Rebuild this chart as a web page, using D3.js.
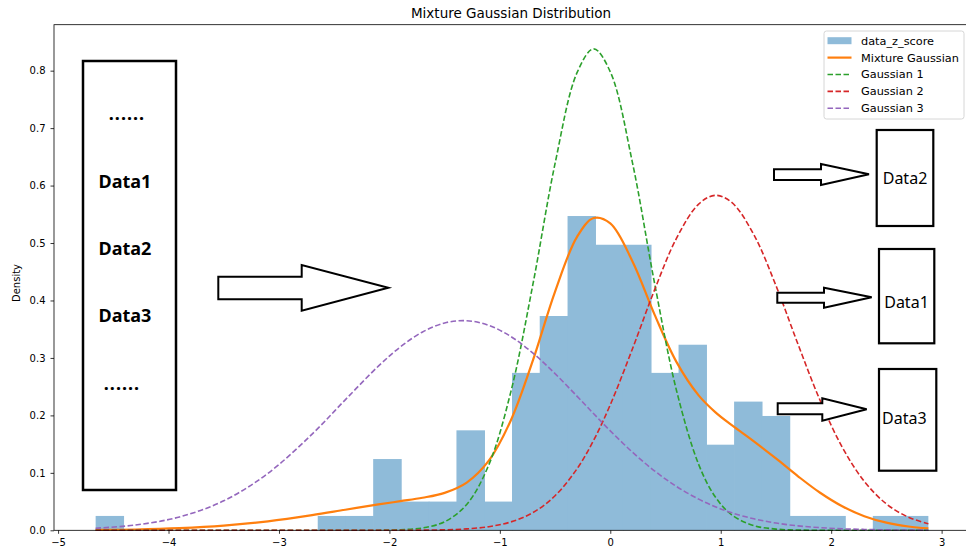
<!DOCTYPE html>
<html>
<head>
<meta charset="utf-8">
<script src="https://cdn.jsdelivr.net/npm/d3@7/dist/d3.min.js"></script>
<style>
  body { margin: 0; background: #fff; }
  svg { display: block; }
</style>
</head>
<body>
<div id="chart"></div>
<script>

// histogram (density=True, 30 bins)
var binEdges = [-4.66, -4.409, -4.157, -3.906, -3.655, -3.403, -3.152, -2.901, -2.649, -2.398,
  -2.147, -1.895, -1.644, -1.393, -1.141, -0.890, -0.639, -0.387, -0.136, 0.115,
  0.367, 0.618, 0.869, 1.121, 1.372, 1.623, 1.875, 2.126, 2.377, 2.629, 2.88];
var histDensity = [0.025, 0, 0, 0, 0, 0, 0, 0, 0.025, 0.025,
  0.124, 0.050, 0.050, 0.174, 0.050, 0.274, 0.373, 0.547, 0.497, 0.497,
  0.274, 0.323, 0.149, 0.224, 0.199, 0.025, 0.025, 0, 0.025, 0.025];

// curves, read at these x positions
var curveX = [-4.66, -4.3, -3.9, -3.5, -3.1, -2.7, -2.4, -2.1, -1.9, -1.7, -1.5, -1.3, -1.1, -0.9, -0.7, -0.5, -0.3,
  -0.15, 0.0, 0.2, 0.4, 0.6, 0.8, 0.95, 1.1, 1.3, 1.5, 1.7, 1.9, 2.1, 2.3, 2.5, 2.7, 2.88];
var mixture = [0.0006, 0.0014, 0.0037, 0.0081, 0.0156, 0.0263, 0.0357, 0.0450, 0.0507, 0.0566, 0.0652, 0.0831,
  0.1212, 0.1916, 0.2961, 0.4156, 0.5112, 0.5435, 0.5342, 0.4684, 0.3758, 0.2927, 0.2348, 0.2057, 0.1829,
  0.1548, 0.1250, 0.0940, 0.0653, 0.0418, 0.0246, 0.0133, 0.0066, 0.0033];
var gauss1 = [0, 0, 0, 0, 0, 0, 0, 0.0002, 0.0010, 0.0041, 0.0149, 0.0450, 0.1139, 0.2414, 0.4288, 0.6385,
  0.7969, 0.8380, 0.7980, 0.6405, 0.4309, 0.2430, 0.1148, 0.0583, 0.0268, 0.0082, 0.0021, 0.0004, 0.0001,
  0, 0, 0, 0, 0];
var gauss2 = [0, 0, 0, 0, 0, 0, 0, 0, 0.0001, 0.0003, 0.0009, 0.0025, 0.0063, 0.0146, 0.0309, 0.0601,
  0.1074, 0.1570, 0.2186, 0.3155, 0.4180, 0.5084, 0.5677, 0.5830, 0.5706, 0.5145, 0.4259, 0.3237, 0.2259,
  0.1447, 0.0851, 0.0459, 0.0228, 0.0113];
var gauss3 = [0.0036, 0.0092, 0.0233, 0.0513, 0.0991, 0.1674, 0.2271, 0.2857, 0.3193, 0.3452, 0.3609,
  0.3648, 0.3567, 0.3372, 0.3083, 0.2726, 0.2331, 0.2028, 0.1731, 0.1361, 0.1035, 0.0762, 0.0542, 0.0410,
  0.0305, 0.0200, 0.0126, 0.0077, 0.0046, 0.0026, 0.0015, 0.0008, 0.0004, 0.0002];

var xTicks = [-5, -4, -3, -2, -1, 0, 1, 2, 3];
var yTicks = [0, 0.1, 0.2, 0.3, 0.4, 0.5, 0.6, 0.7, 0.8];
var legendLabels = ["data_z_score", "Mixture Gaussian", "Gaussian 1", "Gaussian 2", "Gaussian 3"];

var leftBoxLabels = ["......", "Data1", "Data2", "Data3", "......"];
var rightBoxLabels = ["Data2", "Data1", "Data3"];

var width = 966, height = 553;
var plot = {left: 54, right: 970, top: 24.7, bottom: 530.3};
var mplFont = "DejaVu Sans, sans-serif";

var svg = d3.select("#chart").append("svg")
  .attr("width", width)
  .attr("height", height);

var xScale = d3.scaleLinear()
  .domain([-5.037, 3.257])
  .range([plot.left, plot.right]);

var yScale = d3.scaleLinear()
  .domain([0, 0.88])
  .range([plot.bottom, plot.top]);

// bars (a hair wider so neighbours don't show a seam)
svg.append("g").selectAll("rect")
    .data(histDensity)
  .enter().append("rect")
    .attr("x", function(d, i) { return xScale(binEdges[i]); })
    .attr("width", function(d, i) { return xScale(binEdges[i + 1]) - xScale(binEdges[i]) + (i < histDensity.length - 1 ? 0.7 : 0); })
    .attr("y", function(d) { return yScale(d); })
    .attr("height", function(d) { return yScale(0) - yScale(d); })
    .style("fill", "#8fbbd9");

var line = d3.line()
  .x(function(d, i) { return xScale(curveX[i]); })
  .y(function(d) { return yScale(d); })
  .curve(d3.curveCatmullRom.alpha(0.5));

var series = [
  {values: mixture, color: "#ff7f0e", width: 2.2, dash: null},
  {values: gauss1, color: "#2ca02c", width: 1.6, dash: "5.5,2.5"},
  {values: gauss2, color: "#d62728", width: 1.6, dash: "5.5,2.5"},
  {values: gauss3, color: "#9467bd", width: 1.6, dash: "5.5,2.5"}
];

svg.append("g").selectAll("path")
    .data(series)
  .enter().append("path")
    .attr("d", function(d) { return line(d.values); })
    .style("fill", "none")
    .style("stroke", function(d) { return d.color; })
    .style("stroke-width", function(d) { return d.width; })
    .style("stroke-dasharray", function(d) { return d.dash; });

// frame + axes
svg.append("rect")
  .attr("x", plot.left)
  .attr("y", plot.top)
  .attr("width", plot.right - plot.left)
  .attr("height", plot.bottom - plot.top)
  .style("fill", "none")
  .style("stroke", "#000")
  .style("stroke-width", 0.8);

var xAxis = d3.axisBottom(xScale)
  .tickValues(xTicks)
  .tickFormat(d3.format("d"))
  .tickSize(3.5)
  .tickPadding(5);

var yAxis = d3.axisLeft(yScale)
  .tickValues(yTicks)
  .tickFormat(d3.format(".1f"))
  .tickSize(3.5)
  .tickPadding(5);

var gx = svg.append("g")
  .attr("transform", "translate(0," + plot.bottom + ")")
  .call(xAxis);
var gy = svg.append("g")
  .attr("transform", "translate(" + plot.left + ",0)")
  .call(yAxis);

[gx, gy].forEach(function(g) {
  g.select(".domain").remove();
  g.selectAll("line").style("stroke", "#000").style("stroke-width", 0.8);
  g.selectAll("text").style("font-family", mplFont).style("font-size", "10px").style("fill", "#000");
});

svg.append("text")
  .attr("x", (plot.left + plot.right) / 2 - 1)
  .attr("y", 18)
  .attr("text-anchor", "middle")
  .style("font-family", mplFont)
  .style("font-size", "13.5px")
  .text("Mixture Gaussian Distribution");

svg.append("text")
  .attr("transform", "translate(20,283) rotate(-90)")
  .attr("text-anchor", "middle")
  .style("font-family", mplFont)
  .style("font-size", "10px")
  .text("Density");

// legend
var legend = svg.append("g").attr("transform", "translate(824,31)");
legend.append("rect")
  .attr("width", 140)
  .attr("height", 88)
  .attr("rx", 2.5)
  .style("fill", "#fff")
  .style("fill-opacity", 0.8)
  .style("stroke", "#ccc")
  .style("stroke-width", 0.8);

var rows = legend.selectAll(".row")
    .data(legendLabels)
  .enter().append("g")
    .attr("class", "row")
    .attr("transform", function(d, i) { return "translate(0," + (9.7 + i * 16.9) + ")"; });

rows.each(function(d, i) {
  var row = d3.select(this);
  if (i === 0) {
    row.append("rect").attr("x", 3.5).attr("y", -3.5).attr("width", 24).attr("height", 7)
      .style("fill", "#8fbbd9");
  } else {
    var s = series[i - 1];
    row.append("line").attr("x1", 3.5).attr("x2", 27.5).attr("y1", 0).attr("y2", 0)
      .style("stroke", s.color)
      .style("stroke-width", s.width)
      .style("stroke-dasharray", s.dash);
  }
  row.append("text")
    .attr("x", 37)
    .attr("y", 0)
    .attr("dy", "0.35em")
    .style("font-family", mplFont)
    .style("font-size", "11.3px")
    .text(d);
});

// hand-drawn overlay: boxes and arrows (pixel positions)
var overlay = svg.append("g");

var boxes = [
  {x0: 83, y0: 61, x1: 176, y1: 490, w: 2.5},
  {x0: 876.7, y0: 130, x1: 933.3, y1: 226, w: 2.2},
  {x0: 879, y0: 249, x1: 934.3, y1: 343.3, w: 2.2},
  {x0: 879, y0: 369, x1: 936.3, y1: 470.7, w: 2.2}
];
overlay.selectAll(".box")
    .data(boxes)
  .enter().append("rect")
    .attr("class", "box")
    .attr("x", function(d) { return d.x0; })
    .attr("y", function(d) { return d.y0; })
    .attr("width", function(d) { return d.x1 - d.x0; })
    .attr("height", function(d) { return d.y1 - d.y0; })
    .style("fill", "none")
    .style("stroke", "#000")
    .style("stroke-width", function(d) { return d.w; });

var arrows = [
  {x0: 218.3, st: 276.7, sb: 299.3, hx: 301.7, ht: 265, hb: 310.7, tx: 388.3, ty: 287.7},
  {x0: 774, st: 169.3, sb: 180, hx: 821, ht: 164, hb: 185, tx: 869, ty: 174.3},
  {x0: 777.3, st: 292.7, sb: 302.7, hx: 824, ht: 287.7, hb: 307.7, tx: 871.7, ty: 297.3},
  {x0: 777.7, st: 403.3, sb: 414.3, hx: 822.3, ht: 398.3, hb: 420.7, tx: 866.7, ty: 409.3}
];
overlay.selectAll(".arrow")
    .data(arrows)
  .enter().append("polygon")
    .attr("class", "arrow")
    .attr("points", function(a) {
      return [[a.x0, a.st], [a.hx, a.st], [a.hx, a.ht], [a.tx, a.ty], [a.hx, a.hb], [a.hx, a.sb], [a.x0, a.sb]]
        .map(function(p) { return p.join(","); }).join(" ");
    })
    .style("fill", "#fff")
    .style("stroke", "#000")
    .style("stroke-width", 2)
    .style("stroke-linejoin", "miter");

var leftPos = [[127, 120], [125, 188], [125, 254.5], [125, 321.5], [122, 389.5]];
overlay.selectAll(".ltxt")
    .data(leftBoxLabels)
  .enter().append("text")
    .attr("class", "ltxt")
    .attr("x", function(d, i) { return leftPos[i][0]; })
    .attr("y", function(d, i) { return leftPos[i][1]; })
    .attr("text-anchor", "middle")
    .style("font-family", "Noto Sans, sans-serif")
    .style("font-weight", "bold")
    .style("font-size", "18px")
    .style("letter-spacing", function(d) { return d === "......" ? "1px" : null; })
    .text(function(d) { return d; });

var rightPos = [[905, 184], [906.5, 307.5], [904.3, 424]];
overlay.selectAll(".rtxt")
    .data(rightBoxLabels)
  .enter().append("text")
    .attr("class", "rtxt")
    .attr("x", function(d, i) { return rightPos[i][0]; })
    .attr("y", function(d, i) { return rightPos[i][1]; })
    .attr("text-anchor", "middle")
    .style("font-family", "Noto Sans, sans-serif")
    .style("font-size", "16px")
    .text(function(d) { return d; });

</script>
</body>
</html>
